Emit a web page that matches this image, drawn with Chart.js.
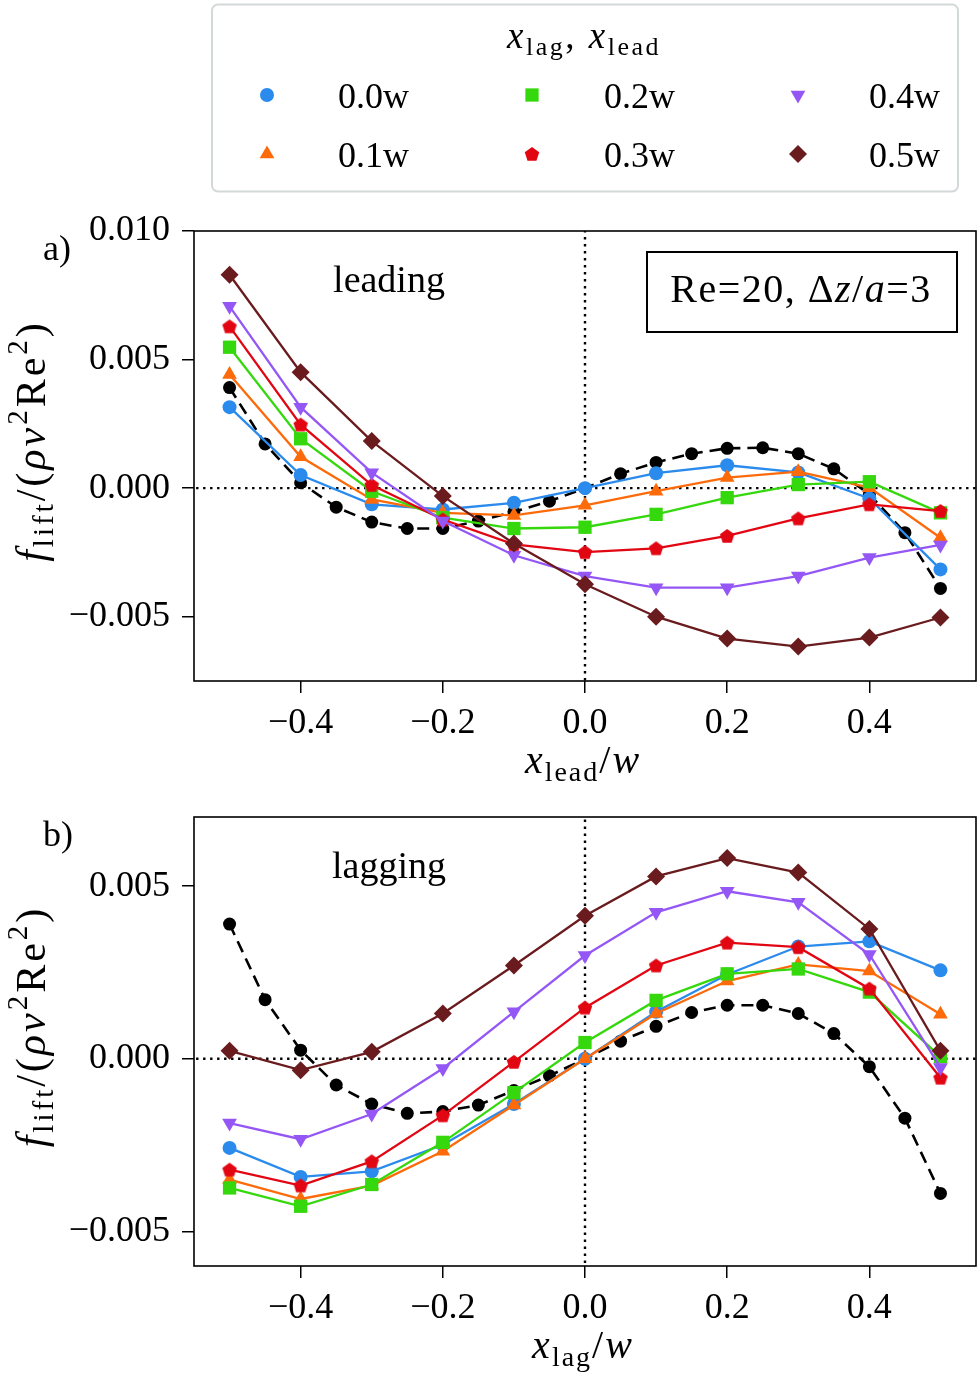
<!DOCTYPE html>
<html lang="en">
<head>
    <meta charset="UTF-8">
    <title>Lift force, leading and lagging particle</title>
    <script src="https://cdn.jsdelivr.net/npm/chart.js"></script>
    <style>
        html, body { margin: 0; padding: 0; background: #fff; }
        #wrap { position: relative; width: 980px; height: 1374px; overflow: hidden; }
        canvas { position: absolute; left: 0; }
        #chartA { top: 0; }
        #chartB { top: 780px; }
    </style>
</head>
<body>
<div id="wrap">
    <canvas id="chartA" width="980" height="800"></canvas>
    <canvas id="chartB" width="980" height="594"></canvas>
</div>

<script>
    // positions (in units of w)
    const xCoarse = [-0.5, -0.4, -0.3, -0.2, -0.1, 0.0, 0.1, 0.2, 0.3, 0.4, 0.5];
    const xFine = [-0.5, -0.45, -0.4, -0.35, -0.3, -0.25, -0.2, -0.15, -0.1, -0.05, 0.0,
                   0.05, 0.1, 0.15, 0.2, 0.25, 0.3, 0.35, 0.4, 0.45, 0.5];

    const seriesLabels = ['0.0w', '0.1w', '0.2w', '0.3w', '0.4w', '0.5w'];
    const seriesColors = ['#2a8bec', '#fd6a0a', '#35d80c', '#e20612', '#9457f5', '#6a1b1e'];

    // a) leading
    const singleLead = [0.00391, 0.00172, 0.00021, -0.00074, -0.00132, -0.00157, -0.00157, -0.00128, -0.00092, -0.00051, 0.0,
                        0.00056, 0.00100, 0.00134, 0.00155, 0.00157, 0.00134, 0.00075, -0.00024, -0.00173, -0.00390];
    const lead00 = [0.00315, 0.00051, -0.00063, -0.00083, -0.00057, 0.0, 0.00058, 0.00089, 0.00061, -0.00040, -0.00316];
    const lead01 = [0.00442, 0.00122, -0.00044, -0.00096, -0.00106, -0.00067, -0.00012, 0.00041, 0.00064, 0.00002, -0.00193];
    const lead02 = [0.00548, 0.00192, -0.00012, -0.00115, -0.00157, -0.00152, -0.00102, -0.00037, 0.00014, 0.00025, -0.00096];
    const lead03 = [0.00629, 0.00247, 0.00012, -0.00122, -0.00219, -0.00249, -0.00234, -0.00186, -0.00118, -0.00063, -0.00089];
    const lead04 = [0.00707, 0.00315, 0.00060, -0.00128, -0.00261, -0.00342, -0.00387, -0.00387, -0.00342, -0.00270, -0.00221];
    const lead05 = [0.00830, 0.00451, 0.00183, -0.00031, -0.00215, -0.00374, -0.00500, -0.00585, -0.00616, -0.00581, -0.00503];

    // b) lagging
    const singleLag = [0.00390, 0.00171, 0.00025, -0.00076, -0.00131, -0.00158, -0.00153, -0.00134, -0.00092, -0.00049, 0.0,
                       0.00051, 0.00094, 0.00134, 0.00155, 0.00155, 0.00131, 0.00073, -0.00023, -0.00172, -0.00390];
    const lag00 = [-0.00258, -0.00342, -0.00326, -0.00249, -0.00131, 0.0, 0.00136, 0.00244, 0.00325, 0.00340, 0.00256];
    const lag01 = [-0.00350, -0.00406, -0.00367, -0.00268, -0.00134, 0.0, 0.00131, 0.00225, 0.00273, 0.00254, 0.00129];
    const lag02 = [-0.00374, -0.00427, -0.00364, -0.00242, -0.00098, 0.00047, 0.00169, 0.00246, 0.00260, 0.00193, 0.00006];
    const lag03 = [-0.00321, -0.00367, -0.00297, -0.00164, -0.00009, 0.00148, 0.00270, 0.00336, 0.00323, 0.00203, -0.00055];
    const lag04 = [-0.00186, -0.00233, -0.00160, -0.00028, 0.00136, 0.00299, 0.00424, 0.00485, 0.00453, 0.00302, -0.00025];
    const lag05 = [0.00023, -0.00033, 0.00020, 0.00131, 0.00270, 0.00414, 0.00528, 0.00581, 0.00539, 0.00376, 0.00023];

    // ticks
    const xTicks = [-0.4, -0.2, 0.0, 0.2, 0.4];
    const yTicksLead = [-0.005, 0.0, 0.005, 0.010];
    const yTicksLag = [-0.005, 0.0, 0.005];

    const SERIF = '"Liberation Serif", "DejaVu Serif", serif';

    // pentagon marker (no built-in style in Chart.js)
    function makePentagon(color, r) {
        const c = document.createElement('canvas');
        const s = Math.ceil(r * 2 + 2);
        c.width = s; c.height = s;
        const g = c.getContext('2d');
        g.fillStyle = color;
        g.beginPath();
        for (let k = 0; k < 5; k++) {
            const a = -Math.PI / 2 + k * 2 * Math.PI / 5;
            const px = s / 2 + r * Math.cos(a), py = s / 2 + r * Math.sin(a) + 0.6;
            k ? g.lineTo(px, py) : g.moveTo(px, py);
        }
        g.closePath();
        g.fill();
        return c;
    }

    const markers = [
        { style: 'circle', r: 7, rot: 0 },
        { style: 'triangle', r: 8.5, rot: 0 },
        { style: 'rect', r: 9.4, rot: 0 },
        { style: makePentagon(seriesColors[3], 7.6), r: 8, rot: 0 },
        { style: 'triangle', r: 8.5, rot: 180 },
        { style: 'rectRot', r: 9, rot: 0 }
    ];

    // text with italics, sub- and superscripts
    function drawRich(ctx, parts, x, y, size, align, spacing) {
        const fontFor = k => (k === 'i' ? 'italic ' : '') +
            Math.round(k === 'sub' || k === 'sup' ? size * 0.7 : size) + 'px ' + SERIF;
        const gap = spacing || 0;
        let w = 0;
        parts.forEach(([t, k]) => { ctx.font = fontFor(k); w += ctx.measureText(t).width + gap * t.length; });
        let cx = align === 'center' ? x - w / 2 : x;
        ctx.textAlign = 'left';
        ctx.textBaseline = 'alphabetic';
        parts.forEach(([t, k]) => {
            ctx.font = fontFor(k);
            const dy = k === 'sub' ? size * 0.2 : (k === 'sup' ? -size * 0.42 : 0);
            for (const ch of t) {
                ctx.fillText(ch, cx, y + dy);
                cx += ctx.measureText(ch).width + gap;
            }
        });
    }

    const fTitle = [['f', 'i'], ['lift', 'sub'], ['/(', 'r'], ['ρν', 'i'], ['2', 'sup'], ['Re', 'r'], ['2', 'sup'], [')', 'r']];

    function fmt(v, d) {
        const s = Math.abs(v) < 1e-12 ? (0).toFixed(d) : v.toFixed(d);
        return s.replace('-', '\u2212');
    }

    function buildDatasets(singleVals, series) {
        const sets = [];
        series.forEach((ys, i) => {
            sets.push({
                label: seriesLabels[i],
                data: xCoarse.map((x, j) => ({ x: x, y: ys[j] })),
                showLine: true,
                borderColor: seriesColors[i],
                backgroundColor: seriesColors[i],
                borderWidth: 2.3,
                pointStyle: markers[i].style,
                pointRadius: markers[i].r,
                pointRotation: markers[i].rot,
                pointBackgroundColor: seriesColors[i],
                pointBorderColor: seriesColors[i],
                pointBorderWidth: 0,
                order: 6 - i
            });
        });
        sets.push({
            label: 'single',
            data: xFine.map((x, j) => ({ x: x, y: singleVals[j] })),
            showLine: true,
            borderColor: '#000',
            backgroundColor: '#000',
            borderWidth: 2.6,
            borderDash: [12, 7],
            pointStyle: 'circle',
            pointRadius: 6.5,
            pointBorderWidth: 0,
            order: 7
        });
        // zero lines
        const dotted = { showLine: true, borderColor: '#000', borderWidth: 2.4, borderDash: [2.4, 4.6], pointRadius: 0, order: 8 };
        sets.push(Object.assign({ label: 'x0', data: [{ x: 0, y: -1 }, { x: 0, y: 1 }] }, dotted));
        sets.push(Object.assign({ label: 'y0', data: [{ x: -1, y: 0 }, { x: 1, y: 0 }] }, dotted));
        return sets;
    }

    const framePlugin = {
        id: 'frame',
        afterDraw(chart) {
            const a = chart.chartArea, ctx = chart.ctx;
            ctx.save();
            ctx.strokeStyle = '#000';
            ctx.lineWidth = 1.6;
            ctx.strokeRect(a.left, a.top, a.right - a.left, a.bottom - a.top);
            ctx.restore();
        }
    };

    function makeOptions(yMin, yMax, yTicks, padTop, xAxisHeight) {
        return {
            responsive: false,
            animation: false,
            events: [],
            layout: { autoPadding: false, padding: { top: padTop, right: 4, bottom: 0, left: 0 } },
            plugins: { legend: { display: false }, tooltip: { enabled: false } },
            scales: {
                x: {
                    type: 'linear', min: -0.55, max: 0.55,
                    afterBuildTicks: s => { s.ticks = xTicks.map(v => ({ value: v })); },
                    afterFit: s => { s.height = xAxisHeight; },
                    grid: { drawOnChartArea: false, drawTicks: true, tickLength: 12, color: '#000', lineWidth: 1.5 },
                    border: { display: false },
                    ticks: { color: '#000', font: { family: SERIF, size: 36 }, padding: 9, maxRotation: 0,
                             callback: v => fmt(v, 1) }
                },
                y: {
                    type: 'linear', min: yMin, max: yMax,
                    afterBuildTicks: s => { s.ticks = yTicks.map(v => ({ value: v })); },
                    afterFit: s => { s.width = 194; },
                    grid: { drawOnChartArea: false, drawTicks: true, tickLength: 12, color: '#000', lineWidth: 1.5 },
                    border: { display: false },
                    ticks: { color: '#000', font: { family: SERIF, size: 36 }, padding: 12,
                             callback: v => fmt(v, 3) }
                }
            }
        };
    }

    function drawLegend(ctx) {
        ctx.save();
        ctx.beginPath();
        ctx.roundRect(212, 4.5, 746, 187, 6);
        ctx.fillStyle = '#fff';
        ctx.fill();
        ctx.strokeStyle = '#d3d9d9';
        ctx.lineWidth = 2;
        ctx.stroke();
        ctx.fillStyle = '#000';
        drawRich(ctx, [['x', 'i'], ['lag', 'sub'], [', ', 'r'], ['x', 'i'], ['lead', 'sub']], 584, 48, 37, 'center', 2.5);
        const mx = [267, 532, 798], tx = [338, 604, 869], my = [95, 154];
        seriesLabels.forEach((lab, i) => {
            const col = Math.floor(i / 2), row = i % 2;
            ctx.fillStyle = seriesColors[i];
            Chart.helpers.drawPoint(ctx, { pointStyle: markers[i].style, rotation: markers[i].rot,
                                           radius: markers[i].r, borderWidth: 0 }, mx[col], my[row]);
            ctx.fillStyle = '#000';
            ctx.font = '36px ' + SERIF;
            ctx.textAlign = 'left';
            ctx.textBaseline = 'alphabetic';
            ctx.fillText(lab, tx[col], my[row] + 13);
        });
        ctx.restore();
    }

    function makeTextPlugin(panel, word, xSub, withLegend) {
        return {
            id: 'text' + panel,
            afterDraw(chart) {
                const ctx = chart.ctx, a = chart.chartArea;
                ctx.save();
                ctx.fillStyle = '#000';
                ctx.font = '36px ' + SERIF;
                ctx.textAlign = 'left';
                ctx.textBaseline = 'alphabetic';
                ctx.fillText(panel + ')', 43, a.top + 29);
                ctx.font = '38px ' + SERIF;
                ctx.textAlign = 'center';
                ctx.fillText(word, 389, a.top + 61);
                // x axis title
                drawRich(ctx, [['x', 'i'], [xSub, 'sub'], ['/', 'r'], ['w', 'i']], 583, a.bottom + 92, 40, 'center', 2);
                // y axis title
                ctx.translate(45, (a.top + a.bottom) / 2 - 15);
                ctx.rotate(-Math.PI / 2);
                drawRich(ctx, fTitle, 0, 0, 42, 'center', 3);
                ctx.restore();
                if (withLegend) {
                    ctx.save();
                    ctx.strokeStyle = '#000';
                    ctx.lineWidth = 2;
                    ctx.fillStyle = '#fff';
                    ctx.fillRect(647, a.top + 21, 310, 80);
                    ctx.strokeRect(647, a.top + 21, 310, 80);
                    ctx.fillStyle = '#000';
                    drawRich(ctx, [['Re=20, ', 'r'], ['Δ', 'r'], ['z', 'i'], ['/', 'r'], ['a', 'i'], ['=3', 'r']],
                             801, a.top + 71, 40, 'center', 1.5);
                    ctx.restore();
                    drawLegend(ctx);
                }
            }
        };
    }

    new Chart(document.getElementById('chartA'), {
        type: 'scatter',
        data: { datasets: buildDatasets(singleLead, [lead00, lead01, lead02, lead03, lead04, lead05]) },
        options: makeOptions(-0.0075, 0.010, yTicksLead, 231, 119),
        plugins: [framePlugin, makeTextPlugin('a', 'leading', 'lead', true)]
    });

    new Chart(document.getElementById('chartB'), {
        type: 'scatter',
        data: { datasets: buildDatasets(singleLag, [lag00, lag01, lag02, lag03, lag04, lag05]) },
        options: makeOptions(-0.006, 0.007, yTicksLag, 37, 108),
        plugins: [framePlugin, makeTextPlugin('b', 'lagging', 'lag', false)]
    });
</script>
</body>
</html>
